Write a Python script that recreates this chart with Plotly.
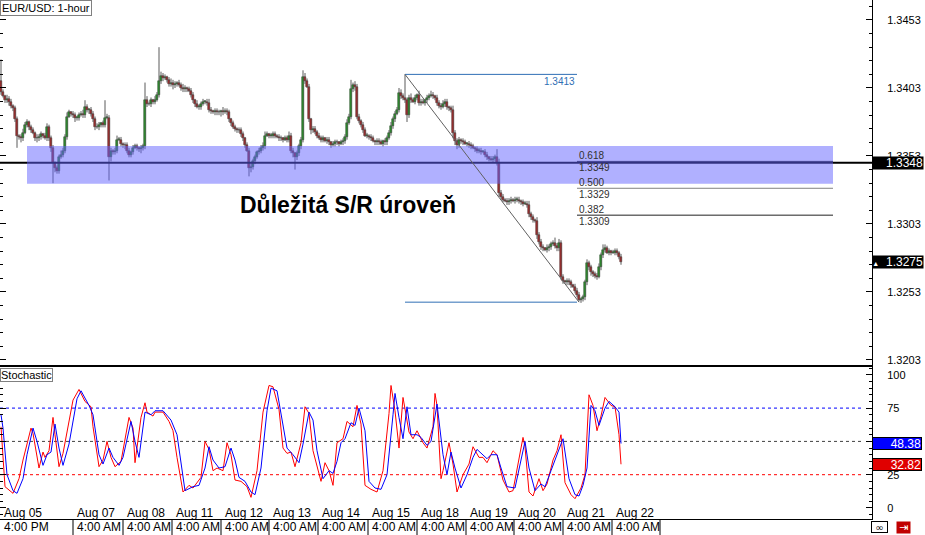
import plotly.graph_objects as go

# ---------------- data ----------------
# hourly closes, in pips above 1.3000  (price = 1.3 + pips/10000)
closes_pips = [
    400, 397, 394, 395, 393, 390, 388, 380, 368, 367,
    366, 370, 376, 378, 374, 372, 370, 366, 366, 367,
    369, 368, 366, 374, 366, 359, 348, 344, 342, 352,
    354, 357, 367, 382, 385, 384, 383, 381, 381, 383,
    384, 383, 389, 387, 387, 384, 380, 374, 374, 376,
    377, 376, 381, 381, 352, 357, 356, 357, 365, 365,
    362, 361, 361, 357, 354, 356, 359, 360, 359, 358,
    359, 360, 394, 391, 391, 394, 393, 394, 398, 408,
    412, 410, 411, 409, 406, 407, 405, 406, 407, 405,
    403, 402, 403, 402, 401, 398, 394, 391, 389, 389,
    391, 393, 393, 392, 387, 386, 385, 386, 385, 385,
    386, 385, 386, 385, 380, 377, 374, 373, 372, 372,
    369, 366, 361, 357, 344, 345, 349, 352, 356, 357,
    359, 360, 368, 369, 368, 368, 369, 368, 367, 366,
    366, 365, 366, 365, 368, 357, 355, 352, 355, 360,
    365, 411, 408, 404, 380, 372, 373, 371, 368, 366,
    365, 366, 364, 365, 363, 361, 362, 363, 363, 362,
    363, 364, 367, 377, 382, 402, 405, 404, 382, 379,
    376, 372, 368, 368, 367, 366, 364, 363, 364, 363,
    362, 364, 363, 366, 370, 375, 380, 384, 387, 399,
    397, 396, 394, 383, 396, 394, 393, 396, 398, 392,
    393, 392, 394, 396, 397, 398, 397, 396, 392, 390,
    389, 391, 393, 389, 388, 387, 370, 364, 361, 365,
    364, 363, 362, 362, 361, 360, 359, 358, 357, 357,
    356, 356, 354, 352, 351, 350, 351, 352, 348, 326,
    323, 321, 320, 319, 320, 321, 320, 321, 321, 320,
    319, 318, 318, 317, 310, 308, 306, 305, 295, 290,
    286, 285, 284, 285, 286, 288, 289, 287, 285, 289,
    264, 261, 260, 261, 260, 258, 257, 254, 251, 247,
    248, 249, 260, 274, 271, 268, 266, 265, 264, 271,
    280, 284, 285, 282, 283, 282, 282, 283, 282, 279,
    275,
]
first_open_pips = 408
# wick lengths beyond the body, in pips
upper_wick_pips = [
    16, 2, 1, 3, 2, 2, 1, 2, 2, 1, 2, 3, 2, 2, 1, 2, 2, 1, 3, 2,
    2, 1, 2, 3, 2, 2, 2, 1, 2, 2, 3, 2, 2, 3, 2, 1, 2, 2, 1, 2,
    2, 3, 5, 2, 1, 2, 2, 2, 3, 2, 1, 2, 13, 3, 2, 2, 1, 2, 3, 2,
    2, 1, 2, 2, 2, 1, 2, 2, 2, 1, 2, 2, 13, 3, 2, 2, 1, 3, 2, 25,
    3, 2, 2, 1, 2, 3, 2, 2, 1, 2, 2, 3, 2, 1, 2, 2, 2, 1, 3, 2,
    2, 2, 1, 2, 3, 2, 1, 2, 2, 2, 1, 3, 2, 2, 2, 1, 2, 2, 1, 2,
    2, 2, 1, 2, 2, 3, 2, 2, 1, 2, 2, 3, 3, 2, 1, 2, 2, 2, 1, 2,
    2, 1, 2, 2, 3, 2, 2, 1, 2, 2, 2, 5, 3, 2, 2, 1, 2, 2, 1, 2,
    2, 2, 1, 2, 2, 1, 2, 2, 2, 1, 2, 2, 2, 3, 2, 7, 2, 3, 2, 2,
    1, 2, 2, 2, 1, 2, 2, 1, 2, 2, 2, 1, 2, 2, 2, 3, 2, 2, 2, 4,
    3, 2, 17, 2, 2, 3, 2, 2, 1, 3, 2, 2, 1, 2, 2, 3, 2, 1, 2, 2,
    2, 3, 2, 2, 1, 2, 3, 2, 2, 2, 1, 2, 2, 1, 2, 2, 2, 1, 2, 2,
    2, 1, 2, 2, 1, 2, 2, 2, 6, 3, 2, 2, 1, 2, 2, 2, 1, 2, 2, 2,
    1, 2, 2, 2, 3, 2, 2, 1, 3, 2, 2, 2, 1, 3, 2, 2, 2, 4, 2, 3,
    2, 2, 1, 2, 2, 2, 1, 2, 2, 2, 1, 2, 2, 3, 2, 2, 1, 2, 2, 3,
    2, 4, 3, 2, 2, 1, 2, 2, 2, 1, 2,
]
lower_wick_pips = [
    2, 1, 2, 2, 3, 2, 2, 2, 9, 2, 3, 2, 1, 2, 2, 2, 1, 2, 3, 2,
    2, 2, 1, 2, 2, 3, 15, 3, 2, 2, 1, 2, 2, 2, 1, 2, 2, 3, 2, 2,
    1, 2, 2, 2, 3, 2, 2, 2, 1, 2, 2, 2, 2, 1, 17, 3, 2, 2, 2, 1,
    2, 2, 3, 2, 2, 2, 2, 1, 2, 2, 3, 2, 2, 2, 1, 2, 2, 2, 1, 2,
    2, 2, 1, 2, 2, 2, 3, 2, 2, 1, 2, 2, 2, 2, 1, 2, 2, 2, 1, 2,
    2, 1, 2, 2, 2, 2, 1, 2, 2, 2, 3, 2, 1, 2, 2, 2, 1, 2, 2, 2,
    2, 2, 2, 1, 6, 3, 2, 2, 1, 2, 2, 2, 2, 1, 2, 2, 2, 2, 1, 2,
    2, 2, 1, 2, 2, 2, 3, 9, 2, 2, 2, 2, 2, 1, 2, 3, 2, 2, 2, 1,
    2, 2, 1, 2, 2, 2, 1, 2, 2, 2, 1, 2, 2, 2, 1, 2, 2, 3, 2, 2,
    2, 2, 1, 2, 2, 2, 1, 2, 2, 2, 1, 2, 2, 2, 1, 2, 2, 2, 1, 2,
    2, 2, 2, 5, 2, 2, 1, 2, 2, 2, 2, 1, 2, 2, 2, 1, 2, 2, 2, 2,
    2, 1, 2, 2, 2, 2, 4, 3, 3, 2, 2, 2, 1, 2, 2, 2, 1, 2, 2, 2,
    2, 1, 2, 2, 2, 1, 2, 2, 2, 3, 2, 2, 1, 2, 2, 2, 1, 2, 2, 2,
    2, 2, 1, 2, 2, 2, 2, 1, 3, 2, 2, 2, 1, 2, 2, 2, 1, 2, 2, 2,
    2, 2, 1, 2, 2, 2, 1, 2, 2, 1, 2, 2, 2, 2, 2, 3, 2, 2, 2, 1,
    2, 2, 2, 1, 2, 2, 1, 2, 2, 2, 2,
]

# Stochastic main (%K, red) and signal (%D, blue): bar index and value
stoch_main_idx = [0, 2, 6, 9, 11, 15, 16, 19, 21, 22, 24, 26, 27, 29, 31, 36, 39, 42, 45, 46,
                  49, 51, 53, 55, 57, 60, 64, 66, 67, 70, 72, 73, 76, 77, 81, 84, 86, 88, 91, 94,
                  96, 100, 102, 104, 106, 108, 111, 113, 115, 117, 120, 123, 125, 128, 131, 134, 136, 139, 141, 143,
                  145, 147, 150, 152, 154, 156, 160, 162, 164, 166, 168, 171, 173, 176, 178, 180, 182, 185, 188, 191,
                  194, 195, 197, 199, 201, 204, 206, 208, 211, 213, 216, 217, 218, 220, 221, 224, 226, 228, 231, 234,
                  236, 239, 241, 243, 246, 248, 251, 254, 256, 259, 261, 262, 264, 266, 269, 271, 273, 276, 278, 280,
                  282, 285, 287, 290, 292, 294, 296, 298, 300, 302, 305, 307, 309, 310]
stoch_main = [61, 16, 11, 22, 36, 60, 56, 30, 42, 38, 43, 68, 55, 31, 41, 81, 89, 80, 76, 61,
              31, 36, 50, 38, 31, 35, 68, 60, 34, 68, 79, 72, 69, 72, 72, 65, 58, 38, 12, 17,
              15, 23, 50, 44, 28, 30, 28, 49, 40, 21, 20, 16, 8, 28, 72, 92, 91, 74, 45, 41,
              42, 31, 49, 76, 71, 43, 20, 34, 28, 17, 49, 52, 65, 61, 77, 63, 17, 14, 12, 28,
              71, 92, 73, 45, 83, 57, 52, 58, 49, 45, 61, 86, 77, 22, 28, 49, 33, 12, 25, 33,
              46, 38, 38, 34, 43, 40, 21, 12, 13, 36, 53, 46, 12, 9, 22, 13, 18, 36, 43, 55,
              19, 10, 7, 15, 25, 85, 77, 58, 69, 83, 77, 76, 55, 32.82]
stoch_signal_idx = [0, 1, 3, 6, 8, 11, 13, 16, 18, 21, 23, 25, 27, 29, 31, 34, 38, 40, 44, 46,
                    49, 51, 54, 56, 59, 61, 65, 67, 69, 72, 75, 77, 81, 85, 88, 90, 92, 96, 99, 102,
                    104, 106, 109, 112, 115, 117, 119, 122, 125, 127, 130, 133, 135, 138, 140, 143, 146, 149, 151, 154,
                    156, 158, 161, 164, 166, 168, 170, 172, 175, 177, 179, 182, 184, 187, 190, 193, 196, 197, 199, 201,
                    203, 205, 208, 210, 213, 215, 218, 221, 223, 225, 227, 230, 233, 236, 238, 241, 243, 245, 248, 250,
                    253, 257, 260, 262, 264, 267, 270, 272, 275, 278, 281, 284, 287, 289, 291, 293, 295, 297, 299, 302,
                    304, 307, 309, 310]
stoch_signal = [70, 60, 25, 13, 11, 22, 40, 60, 50, 32, 40, 42, 63, 45, 32, 48, 82, 88, 77, 70,
                40, 33, 45, 38, 32, 38, 65, 50, 38, 72, 70, 73, 73, 66, 55, 35, 13, 16, 17, 30,
                46, 36, 30, 31, 45, 36, 23, 20, 12, 10, 30, 73, 90, 88, 70, 45, 40, 34, 48, 72,
                66, 43, 22, 28, 26, 35, 49, 52, 64, 62, 75, 58, 20, 15, 14, 25, 70, 86, 68, 52,
                76, 55, 55, 53, 47, 50, 78, 40, 25, 42, 30, 15, 25, 38, 44, 40, 37, 40, 40, 30,
                16, 15, 35, 50, 30, 13, 18, 16, 28, 40, 52, 22, 10, 9, 17, 30, 77, 73, 62, 75,
                80, 76, 72, 48.38]

price_ticks = [1.3203, 1.3253, 1.3303, 1.3353, 1.3403, 1.3453]
stoch_ticks = [0, 25, 50, 75, 100]
stoch_levels = [75, 50, 25]
stoch_level_colors = ["#0000ff", "#404040", "#ff0000"]

label_idx = [-0.5, 36, 61, 85.5, 110, 134, 158.5, 183.5, 208, 232.5, 256.5, 281, 305.5]
date_labels = ["Aug 05", "Aug 07", "Aug 08", "Aug 11", "Aug 12", "Aug 13", "Aug 14",
               "Aug 15", "Aug 18", "Aug 19", "Aug 20", "Aug 21", "Aug 22"]
time_labels = ["4:00 PM"] + ["4:00 AM"] * 12
time_row_end_idx = 329.5

sr_level = 1.3348
band_lo, band_hi = 1.33325, 1.33604
band_start_idx, band_end_idx = 13, 416
fib_high, fib_low = 1.3413, 1.32455
fib_high_idx, fib_low_idx = 202, 288
fib_ratios = [0.618, 0.5, 0.382]
fib_line_colors = ["#202020", "#808080", "#202020"]
fib_level_end_idx = 416
last_price = 1.3275
last_main, last_signal = 32.82, 48.38

# ---------------- derived OHLC ----------------
closes = [1.3 + p / 10000 for p in closes_pips]
opens = [1.3 + first_open_pips / 10000] + closes[:-1]
highs = [max(o, c) + w / 10000 for o, c, w in zip(opens, closes, upper_wick_pips)]
lows = [min(o, c) - w / 10000 for o, c, w in zip(opens, closes, lower_wick_pips)]
idx = list(range(len(closes)))

W, H = 925, 535
B = 16
PH = H - B
XR = 872 / W
main_bottom = (PH - 365) / PH
stoch_top = (PH - 367) / PH

FONT = "Liberation Sans, Arial, sans-serif"

fig = go.Figure()

wx, wy = [], []
for i, h, l in zip(idx, highs, lows):
    wx += [i, i, None]
    wy += [l, h, None]
fig.add_trace(go.Scatter(x=wx, y=wy, mode="lines", line=dict(color="#5a5a5a", width=1),
                         hoverinfo="skip", showlegend=False, xaxis="x", yaxis="y"))

bull = [(i, o, c) for i, o, c in zip(idx, opens, closes) if c >= o]
bear = [(i, o, c) for i, o, c in zip(idx, opens, closes) if c < o]
fig.add_trace(go.Bar(x=[b[0] for b in bull], base=[b[1] for b in bull],
                     y=[max(b[2] - b[1], 0.00004) for b in bull],
                     marker=dict(color="#00c000", line=dict(width=0.5, color="#1a1a1a")),
                     width=1.2, showlegend=False, xaxis="x", yaxis="y"))
fig.add_trace(go.Bar(x=[b[0] for b in bear], base=[b[2] for b in bear],
                     y=[max(b[1] - b[2], 0.00004) for b in bear],
                     marker=dict(color="#e00000", line=dict(width=0.5, color="#1a1a1a")),
                     width=1.2, showlegend=False, xaxis="x", yaxis="y"))

fig.add_trace(go.Scatter(x=stoch_main_idx, y=stoch_main, mode="lines",
                         line=dict(color="#ff0000", width=1), showlegend=False,
                         xaxis="x2", yaxis="y2"))
fig.add_trace(go.Scatter(x=stoch_signal_idx, y=stoch_signal, mode="lines",
                         line=dict(color="#0000ff", width=1), showlegend=False,
                         xaxis="x2", yaxis="y2"))

shapes = []
# S/R line
shapes.append(dict(type="line", xref="x domain", yref="y", x0=0, x1=1, y0=sr_level, y1=sr_level,
                   line=dict(color="#000000", width=2), layer="above"))
# fibonacci
for r, col in zip(fib_ratios, fib_line_colors):
    lv = fib_low + r * (fib_high - fib_low)
    shapes.append(dict(type="line", xref="x", yref="y", x0=fib_low_idx, x1=fib_level_end_idx,
                       y0=lv, y1=lv, line=dict(color=col, width=1), layer="above"))
# S/R band (semi transparent, above candles)
shapes.append(dict(type="rect", xref="x", yref="y", x0=band_start_idx, x1=band_end_idx,
                   y0=band_lo, y1=band_hi, fillcolor="rgba(97,97,255,0.5)",
                   line=dict(width=0), layer="above"))
for lv in (fib_high, fib_low):
    shapes.append(dict(type="line", xref="x", yref="y", x0=fib_high_idx, x1=fib_low_idx,
                       y0=lv, y1=lv, line=dict(color="#2f6fb5", width=1), layer="above"))
shapes.append(dict(type="line", xref="x", yref="y", x0=fib_high_idx, x1=fib_low_idx + 1,
                   y0=fib_high, y1=fib_low, line=dict(color="#606060", width=1), layer="above"))
# stochastic levels
for lv, col in zip(stoch_levels, stoch_level_colors):
    shapes.append(dict(type="line", xref="x2", yref="y2", x0=-0.5, x1=431, y0=lv, y1=lv,
                       line=dict(color=col, width=1, dash="dot"), layer="below"))
# time row separators
for xi in label_idx[1:] + [time_row_end_idx]:
    shapes.append(dict(type="line", xref="x2", yref="paper", x0=xi, x1=xi, y0=-B / PH, y1=0,
                       line=dict(color="#000000", width=1)))

ann = []
ann.append(dict(text="EUR/USD: 1-hour", xref="paper", yref="paper", x=0, y=1,
                xanchor="left", yanchor="top", showarrow=False,
                font=dict(family=FONT, size=11, color="#000"), bgcolor="#ffffff",
                bordercolor="#808080", borderwidth=1, borderpad=1))
ann.append(dict(text="Stochastic", xref="paper", yref="paper", x=0, y=stoch_top - 1 / PH,
                xanchor="left", yanchor="top", showarrow=False,
                font=dict(family=FONT, size=11, color="#000"), bgcolor="#ffffff",
                bordercolor="#808080", borderwidth=1, borderpad=0))
ann.append(dict(text="Důležitá S/R úroveň", xref="paper", yref="paper", x=348 / W,
                y=(PH - 205) / PH, xanchor="center", yanchor="middle", showarrow=False,
                font=dict(family=FONT, size=23, color="#000", weight="bold")))
ann.append(dict(text=f"{fib_high:.4f}", xref="x", yref="y", x=fib_low_idx, y=fib_high,
                xanchor="right", yanchor="top", showarrow=False,
                font=dict(family=FONT, size=10, color="#2f6fb5")))
for r in fib_ratios:
    lv = fib_low + r * (fib_high - fib_low)
    ann.append(dict(text=f"{r:.3f}", xref="x", yref="y", x=fib_low_idx, y=lv,
                    xanchor="left", yanchor="bottom", showarrow=False, yshift=-2,
                    font=dict(family=FONT, size=10, color="#303030")))
    ann.append(dict(text=f"{lv:.4f}", xref="x", yref="y", x=fib_low_idx, y=lv,
                    xanchor="left", yanchor="top", showarrow=False, yshift=1,
                    font=dict(family=FONT, size=10, color="#303030")))
# right side value boxes
ann.append(dict(text=f"{sr_level:.4f}", xref="paper", yref="y", x=XR, y=sr_level,
                xanchor="left", yanchor="middle", showarrow=False, width=50, height=12,
                align="right", bgcolor="#000000", borderpad=0,
                font=dict(family=FONT, size=12, color="#ffffff")))
ann.append(dict(text=f"<span style='font-size:7px'>▲</span>  {last_price:.4f}", xref="paper",
                yref="y", x=XR, y=last_price, xanchor="left", yanchor="middle",
                showarrow=False, width=50, height=12, align="right", bgcolor="#000000",
                borderpad=0, font=dict(family=FONT, size=12, color="#ffffff")))
ann.append(dict(text=f"{last_signal:.2f}", xref="paper", yref="y2", x=XR, y=last_signal,
                xanchor="left", yanchor="middle", showarrow=False, width=48, height=11,
                align="right", bgcolor="#0000ff", bordercolor="#000000", borderwidth=1,
                borderpad=0, font=dict(family=FONT, size=12, color="#ffffff")))
ann.append(dict(text=f"{last_main:.2f}", xref="paper", yref="y2", x=XR, y=last_main,
                xanchor="left", yanchor="middle", showarrow=False, width=48, height=11,
                align="right", bgcolor="#e00000", bordercolor="#000000", borderwidth=1,
                borderpad=0, font=dict(family=FONT, size=12, color="#ffffff")))
# date and time labels
for xi, d, t in zip(label_idx, date_labels, time_labels):
    ann.append(dict(text=d, xref="x2", yref="paper", x=xi, y=(PH - 513) / PH,
                    xanchor="left", yanchor="middle", xshift=2, showarrow=False,
                    font=dict(family=FONT, size=12, color="#000")))
    ann.append(dict(text=t, xref="x2", yref="paper", x=xi, y=(PH - 527) / PH,
                    xanchor="left", yanchor="middle", xshift=2, showarrow=False,
                    font=dict(family=FONT, size=12, color="#000")))
# bottom-right icons
ann.append(dict(text="∞", xref="paper", yref="paper", x=871 / W, y=(PH - 527) / PH,
                xanchor="left", yanchor="middle", showarrow=False, width=15, height=10,
                bgcolor="#ffffff", bordercolor="#000000", borderwidth=1, borderpad=0,
                font=dict(family="DejaVu Sans", size=10, color="#000")))
ann.append(dict(text="⇥", xref="paper", yref="paper", x=896 / W, y=(PH - 527) / PH,
                xanchor="left", yanchor="middle", showarrow=False, width=13, height=11,
                bgcolor="#c00000", borderpad=0,
                font=dict(family="DejaVu Sans", size=11, color="#ffffff")))

axis_common = dict(showgrid=False, zeroline=False, showline=True, linecolor="#000000",
                   linewidth=1)
fig.update_layout(
    width=W, height=H,
    margin=dict(l=0, r=0, t=0, b=B, pad=0),
    paper_bgcolor="#ffffff", plot_bgcolor="#ffffff",
    barmode="overlay", bargap=0,
    showlegend=False,
    shapes=shapes, annotations=ann,
    xaxis=dict(domain=[0, XR], range=[-0.5, 435.5], anchor="y", showticklabels=False,
               ticks="", mirror=True, **axis_common),
    xaxis2=dict(domain=[0, XR], range=[-0.5, 435.5], anchor="y2", matches="x",
                showticklabels=False, ticks="", mirror=True, **axis_common),
    yaxis=dict(domain=[main_bottom, 1], range=[1.31993, 1.34677], side="right", anchor="x",
               tickvals=price_ticks, ticktext=[f"{v:.4f}" for v in price_ticks],
               ticks="inside", ticklen=6, tickcolor="#000000", mirror="ticks",
               ticklabelstandoff=12,
               minor=dict(dtick=0.001, tick0=1.3453, ticks="inside", ticklen=3,
                          tickcolor="#000000"),
               tickfont=dict(family=FONT, size=11, color="#000000"), **axis_common),
    yaxis2=dict(domain=[0, stoch_top], range=[-8.27, 105.86], side="right", anchor="x2",
                tickvals=stoch_ticks, ticks="inside", ticklen=6, tickcolor="#000000",
                mirror="ticks", ticklabelstandoff=12,
                minor=dict(dtick=5, tick0=0, ticks="inside", ticklen=3, tickcolor="#000000"),
                tickfont=dict(family=FONT, size=11, color="#000000"), **axis_common),
)

fig.write_html("out.html", config={"displayModeBar": False},
               post_script="document.body.style.margin='0';document.body.style.overflow='hidden';")
